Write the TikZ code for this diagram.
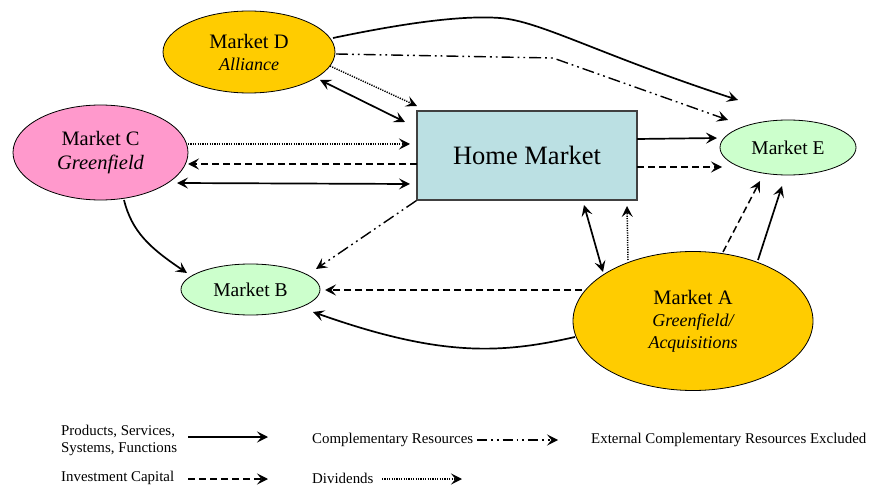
\documentclass[tikz,border=0pt]{standalone}
\usepackage{fontspec}
\setmainfont{Liberation Serif}
\usetikzlibrary{arrows.meta,shapes.geometric,calc}
\definecolor{mkyellow}{HTML}{FFCC00}
\definecolor{mkpink}{HTML}{FF99CC}
\definecolor{mkgreen}{HTML}{CCFFCC}
\definecolor{homeblue}{HTML}{BBE0E3}
\begin{document}
\begin{tikzpicture}[x=1pt,y=-1pt,
  mkt/.style={ellipse, draw=black, line width=0.8pt, inner sep=0pt, align=center,
              font=\fontsize{20.5}{22}\selectfont},
  homebox/.style={rectangle, draw=black!75, line width=1.2pt, fill=homeblue,
              minimum width=220pt, minimum height=89pt, font=\fontsize{26.5}{28}\selectfont},
  legtext/.style={anchor=west, inner sep=0pt, align=left, font=\fontsize{14.9}{17}\selectfont},
  tip/.style={-{Stealth[length=11pt,width=11pt,inset=4.5pt]}},
  dtip/.style={{Stealth[length=11pt,width=11pt,inset=4.5pt]}-{Stealth[length=11pt,width=11pt,inset=4.5pt]}},
  solidln/.style={line width=1.7pt},
  dashln/.style={line width=1.5pt, dash pattern=on 7pt off 4pt},
  ddotln/.style={line width=1.4pt, dash pattern=on 12pt off 4pt on 1.8pt off 4pt on 1.8pt off 4pt},
  dotln/.style={line width=1.5pt, dash pattern=on 1.2pt off 1.2pt},
]
\useasboundingbox (0,0) rectangle (870,486);

% nodes
\node[mkt, fill=mkyellow, minimum width=172pt, minimum height=82pt] (D) at (249,52)
  {Market D\\{\fontsize{18}{22}\selectfont\itshape Alliance}};
\node[mkt, fill=mkpink, minimum width=175pt, minimum height=95pt] (C) at (100.5,152.5)
  {Market C\\[2pt]{\fontsize{20.5}{22}\selectfont\itshape Greenfield}};
\node[homebox] (H) at (527,155.5) {Home Market};
\node[mkt, fill=mkgreen, minimum width=136pt, minimum height=55pt,
      font=\fontsize{19.5}{22}\selectfont] (E) at (788,147.5) {Market E};
\node[mkt, fill=mkgreen, minimum width=139pt, minimum height=51pt,
      font=\fontsize{19.5}{22}\selectfont] (B) at (250.5,289.5) {Market B};
\node[mkt, fill=mkyellow, minimum width=240pt, minimum height=139pt] (A) at (693,321)
  {Market A\\{\fontsize{18}{22}\selectfont\itshape Greenfield/}\\{\fontsize{18}{22}\selectfont\itshape Acquisitions}};

\coordinate (bend1) at (553,58);

% D connections
\draw[solidln, tip] ($(D)+(84,-14)$) .. controls (400,24) and (460,15) .. (500,18)
   .. controls (540,21) and (600,55) .. ($(E)+(-50,-47.5)$);
\draw[ddotln, tip] ($(D)+(87,2)$) -- (bend1) -- ($(E)+(-60,-27.5)$);
\draw[solidln, dtip] ($(D)+(71,28)$) -- ($(H)+(-122,-33.5)$);
\draw[dotln, tip] ($(D)+(81,14)$) -- ($(H)+(-110,-49.5)$);

% C connections
\draw[dotln, tip] ($(C)+(87.5,-8.5)$) -- ($(H)+(-117,-11.5)$);
\draw[dashln, tip] ($(H)+(-110,8.5)$) -- ($(C)+(87.5,11.5)$);
\draw[solidln, dtip] ($(C)+(76.5,30.5)$) -- ($(H)+(-117,28.5)$);
\draw[solidln, tip] ($(C)+(23.5,47.5)$) .. controls (132,232) and (150,248) .. ($(B)+(-63.5,-16.5)$);

% Home to B
\draw[ddotln, tip] (H.south west) -- ($(B)+(65.5,-20.5)$);

% A connections
\draw[dashln, tip] ($(A)+(-111,-31)$) -- ($(B)+(74.5,0.5)$);
\draw[solidln, tip] ($(A)+(-118,16)$) .. controls (500,354) and (440,357) .. ($(B)+(62.5,22.5)$);
\draw[solidln, dtip] ($(H)+(57,49.5)$) -- ($(A)+(-90,-49)$);
\draw[dotln, tip] ($(A)+(-65,-61)$) -- ($(H)+(100,50.5)$);
\draw[dashln, tip] ($(A)+(30,-69)$) -- ($(E)+(-28,33.5)$);
\draw[solidln, tip] ($(A)+(65,-61)$) -- ($(E)+(-6,38.5)$);

% Home to E
\draw[solidln, tip] ($(H)+(110,-16.5)$) -- ($(E)+(-71,-9.5)$);
\draw[dashln, tip] ($(H)+(110,11.5)$) -- ($(E)+(-66,19.5)$);

% legend
\node[legtext] (L1) at (61,440) {Products, Services,\\Systems, Functions};
\node[legtext] (L2) at (61,478) {Investment Capital};
\node[legtext] (L3) at (312,440) {Complementary Resources};
\node[legtext] (L4) at (312,478) {Dividends};
\node[legtext] (L5) at (591,440) {External Complementary Resources Excluded};
\coordinate (l1s) at (188,437); \coordinate (l1e) at (268,437);
\coordinate (l2s) at (188,479); \coordinate (l2e) at (268,479);
\coordinate (l3s) at (477,440); \coordinate (l3e) at (558,440);
\coordinate (l4s) at (382,479); \coordinate (l4e) at (462,479);
\draw[solidln, tip] (l1s) -- (l1e);
\draw[dashln, tip] (l2s) -- (l2e);
\draw[ddotln, dash pattern=on 10pt off 4pt on 1.8pt off 4pt on 1.8pt off 4pt, tip] (l3s) -- (l3e);
\draw[dotln, tip] (l4s) -- (l4e);
\end{tikzpicture}
\end{document}
